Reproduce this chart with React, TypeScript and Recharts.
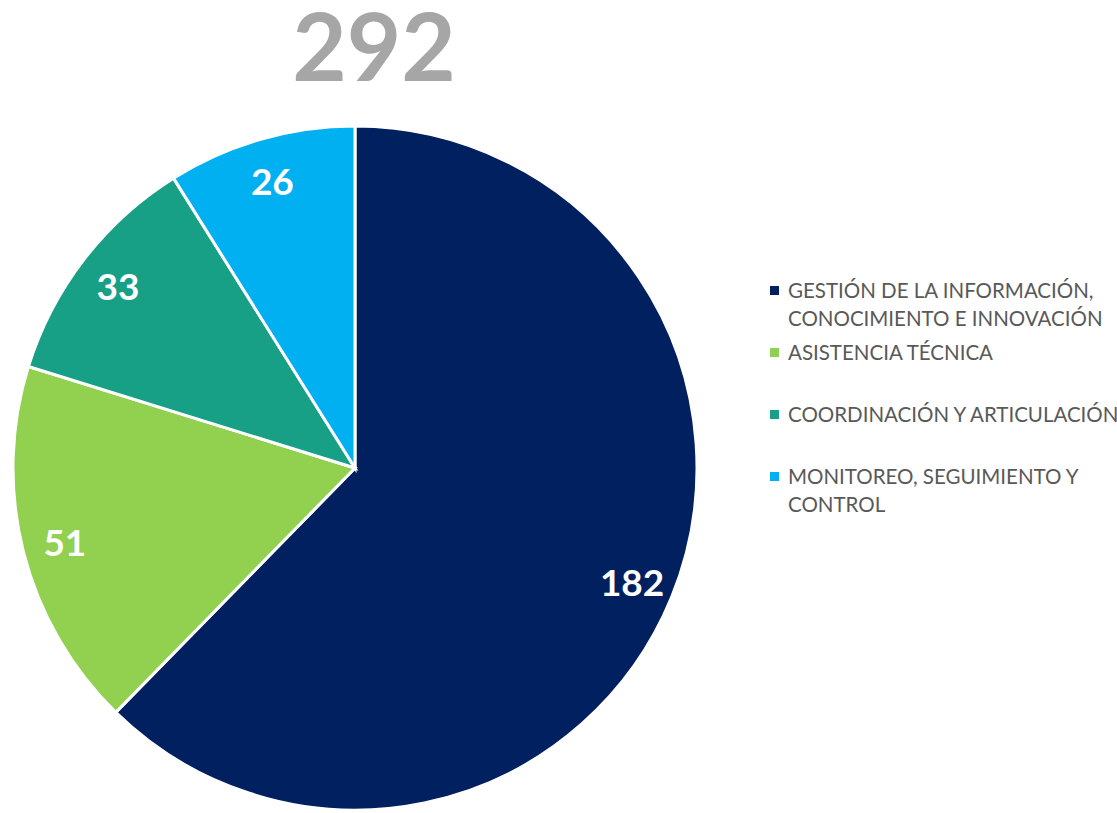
import React from "react";
import { PieChart, Pie, Cell, Legend } from "recharts";

const categories = [
  "GESTIÓN DE LA INFORMACIÓN, CONOCIMIENTO E INNOVACIÓN",
  "ASISTENCIA TÉCNICA",
  "COORDINACIÓN Y ARTICULACIÓN",
  "MONITOREO, SEGUIMIENTO Y CONTROL",
];
const values = [182, 51, 33, 26];
const colors = ["#002060", "#92D050", "#17A086", "#00B0F0"];
const totalLabel = "292";

const data = categories.map((name, i) => ({ name, value: values[i] }));

const RADIAN = Math.PI / 180;

const renderLabel = (props: any) => {
  const { cx, cy, midAngle, outerRadius, value } = props;
  const r = outerRadius * 0.875;
  const x = cx + r * Math.cos(-midAngle * RADIAN);
  const y = cy + r * Math.sin(-midAngle * RADIAN);
  return (
    <text
      x={x}
      y={y}
      fill="#ffffff"
      textAnchor="middle"
      dominantBaseline="central"
      fontFamily="Lato, 'Open Sans', sans-serif"
      fontWeight={700}
      fontSize={37}
    >
      {value}
    </text>
  );
};

const renderLegend = () => (
  <div style={{ width: 360, fontFamily: "Lato, 'Open Sans', sans-serif" }}>
    {categories.map((name, i) => (
      <div
        key={name}
        style={{ height: 62, display: "flex", alignItems: "flex-start" }}
      >
        <span
          style={{
            width: 9,
            height: 9,
            background: colors[i],
            marginTop: 10,
            marginRight: 9,
            flex: "none",
          }}
        />
        <span
          style={{
            width: 338,
            fontSize: 20.5,
            lineHeight: "28px",
            color: "#595959",
          }}
        >
          {name}
        </span>
      </div>
    ))}
  </div>
);

export default function App() {
  return (
    <div
      style={{
        position: "absolute",
        left: 0,
        top: 0,
        width: 1117,
        height: 813,
        background: "#ffffff",
        overflow: "hidden",
      }}
    >
      <div
        style={{
          position: "absolute",
          left: 274,
          top: 0,
          width: 200,
          textAlign: "center",
          fontFamily: "Lato, 'Open Sans', sans-serif",
          fontWeight: 700,
          fontSize: 94,
          color: "#A6A6A6",
          lineHeight: "90px",
        }}
      >
        {totalLabel}
      </div>
      <PieChart
        width={1117}
        height={813}
        margin={{ top: 0, right: 0, bottom: 0, left: 0 }}
      >
        <Pie
          data={data}
          dataKey="value"
          nameKey="name"
          cx={355}
          cy={468}
          outerRadius={342}
          startAngle={90}
          endAngle={-270}
          stroke="#ffffff"
          strokeWidth={3}
          label={renderLabel}
          labelLine={false}
          isAnimationActive={false}
        >
          {data.map((d, i) => (
            <Cell key={d.name} fill={colors[i]} />
          ))}
        </Pie>
        <Legend
          content={renderLegend}
          wrapperStyle={{ position: "absolute", left: 770, top: 276, width: 360 }}
        />
      </PieChart>
    </div>
  );
}
